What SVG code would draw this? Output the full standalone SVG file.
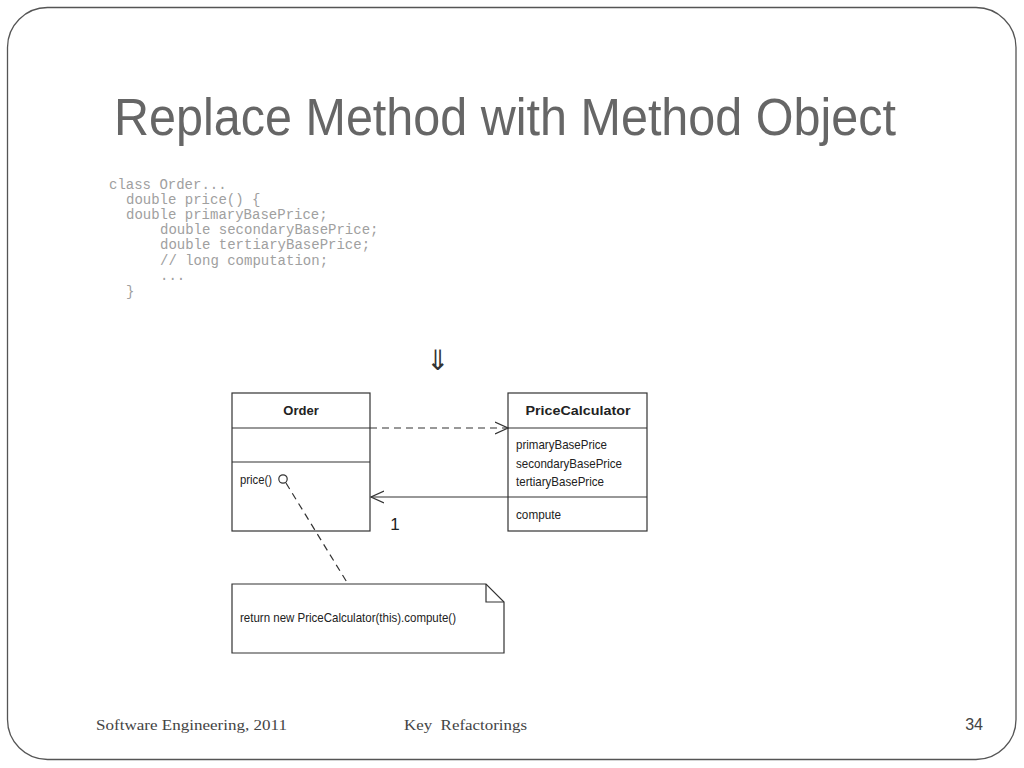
<svg xmlns="http://www.w3.org/2000/svg" width="1024" height="768" viewBox="0 0 1024 768">
<defs>
<style>
.box{fill:#fff;stroke:#333;stroke-width:1.2}
.ln{stroke:#333;stroke-width:1.2;fill:none}
.dash{stroke:#333;stroke-width:1.2;fill:none;stroke-dasharray:7,5}
.uml{font-family:"Liberation Sans Narrow","Liberation Sans",Arial,sans-serif;font-size:13px;fill:#222}
.b{font-weight:bold}
.code{font-family:"Liberation Mono","Courier New",monospace;font-size:14px;fill:#a0a0a0}
.foot{font-family:"Liberation Serif","Times New Roman",serif;font-size:15px;fill:#444}
</style>
<marker id="open" viewBox="0 0 14 14" refX="13" refY="7" markerWidth="14" markerHeight="14" markerUnits="userSpaceOnUse" orient="auto">
<path d="M0,1 L13,7 L0,13" fill="none" stroke="#333" stroke-width="1.2"/>
</marker>
</defs>
<rect width="1024" height="768" fill="#fff"/>
<rect x="7.5" y="7.5" width="1008.5" height="752" rx="40" ry="40" fill="none" stroke="#555" stroke-width="1.3"/>
<text x="114" y="135" font-family="'Liberation Sans Narrow','Liberation Sans',Arial,sans-serif" font-size="51" fill="#666" textLength="782" lengthAdjust="spacingAndGlyphs">Replace Method with Method Object</text>
<g id="code">
<text class="code" x="109" y="189">class Order...</text>
<text class="code" x="126" y="204">double price() {</text>
<text class="code" x="126" y="219">double primaryBasePrice;</text>
<text class="code" x="160" y="234">double secondaryBasePrice;</text>
<text class="code" x="160" y="249">double tertiaryBasePrice;</text>
<text class="code" x="160" y="265">// long computation;</text>
<text class="code" x="160" y="280">...</text>
<text class="code" x="126" y="296">}</text>
</g>
<text x="438" y="370" text-anchor="middle" font-family="'DejaVu Sans',sans-serif" font-size="28" fill="#333">⇓</text>
<g id="order">
<rect class="box" x="232" y="393" width="138" height="138"/>
<line class="ln" x1="232" y1="428" x2="370" y2="428"/>
<line class="ln" x1="232" y1="462" x2="370" y2="462"/>
<text class="uml b" x="301" y="415" text-anchor="middle">Order</text>
<text class="uml" x="240" y="484" textLength="32" lengthAdjust="spacingAndGlyphs">price()</text>
<circle cx="283" cy="479" r="4.2" fill="#fff" stroke="#333" stroke-width="1.2"/>
</g>
<g id="pricecalculator">
<rect class="box" x="508" y="393" width="139" height="138"/>
<line class="ln" x1="508" y1="428" x2="647" y2="428"/>
<line class="ln" x1="508" y1="497" x2="647" y2="497"/>
<text class="uml b" x="578" y="415" text-anchor="middle" textLength="105" lengthAdjust="spacingAndGlyphs">PriceCalculator</text>
<text class="uml" x="516" y="449" textLength="91" lengthAdjust="spacingAndGlyphs">primaryBasePrice</text>
<text class="uml" x="516" y="468" textLength="106" lengthAdjust="spacingAndGlyphs">secondaryBasePrice</text>
<text class="uml" x="516" y="486" textLength="88" lengthAdjust="spacingAndGlyphs">tertiaryBasePrice</text>
<text class="uml" x="516" y="519" textLength="45" lengthAdjust="spacingAndGlyphs">compute</text>
</g>
<g id="note">
<path class="box" d="M232,584 L486,584 L504,602 L504,653 L232,653 Z"/>
<path class="ln" d="M486,584 L486,602 L504,602"/>
<text class="uml" x="240" y="622" textLength="216" lengthAdjust="spacingAndGlyphs">return new PriceCalculator(this).compute()</text>
</g>
<g id="connectors">
<line class="dash" x1="370" y1="428" x2="508" y2="428" marker-end="url(#open)"/>
<line class="ln" x1="508" y1="497" x2="371" y2="497" marker-end="url(#open)"/>
<line class="dash" x1="286" y1="483" x2="348" y2="584" stroke-dasharray="7,4"/>
<text x="395" y="530" text-anchor="middle" font-family="'Liberation Sans',Arial,sans-serif" font-size="17" fill="#222">1</text>
</g>
<g id="footer">
<text class="foot" x="96" y="730" textLength="191" lengthAdjust="spacingAndGlyphs">Software Engineering, 2011</text>
<text class="foot" x="404" y="730" textLength="123" lengthAdjust="spacingAndGlyphs" xml:space="preserve">Key  Refactorings</text>
<text x="983" y="730" text-anchor="end" font-family="'Liberation Sans Narrow','Liberation Sans',Arial,sans-serif" font-size="16" fill="#444">34</text>
</g>
</svg>
